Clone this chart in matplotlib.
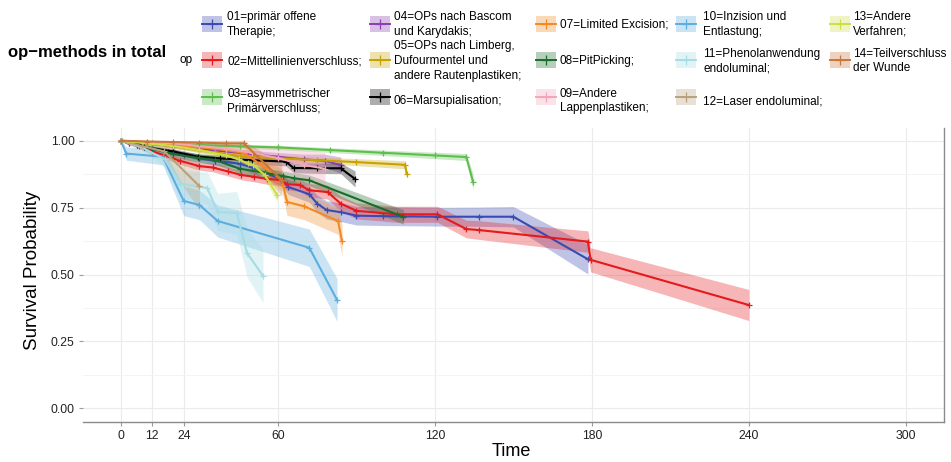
import matplotlib
matplotlib.use("Agg")
import matplotlib.pyplot as plt
import numpy as np
from matplotlib.patches import Rectangle
from matplotlib.lines import Line2D

plt.rcParams['font.family'] = ['Liberation Sans', 'DejaVu Sans']

# ---------------- data ----------------
T01 = [0, 3, 6, 12, 18, 24, 30, 36, 45.5, 50, 55, 61, 64, 72, 75, 78.6, 84, 90, 100, 121, 137, 150, 178.5]
S01 = [1.0, 0.99, 0.985, 0.97, 0.958, 0.945, 0.935, 0.925, 0.914, 0.90, 0.88, 0.858, 0.827, 0.80, 0.765, 0.741, 0.733, 0.72, 0.718, 0.716, 0.716, 0.716, 0.557]
C01 = [0, .005, .007, .01, .012, .013, .015, .016, .018, .02, .022, .025, .028, .03, .032, .034, .035, .035, .035, .035, .036, .038, .055]

T02 = [0, 3, 7, 12, 16.8, 22.5, 30, 35, 41, 46, 51, 56, 61, 63.5, 68.4, 72, 79, 84, 90, 105.5, 121, 132, 137, 178.5, 179.5, 240]
S02 = [1.0, 0.99, 0.982, 0.96, 0.945, 0.925, 0.905, 0.90, 0.885, 0.872, 0.865, 0.857, 0.853, 0.838, 0.834, 0.815, 0.808, 0.765, 0.738, 0.725, 0.725, 0.67, 0.666, 0.623, 0.555, 0.386]
C02 = [0, .005, .008, .01, .012, .013, .015, .016, .017, .018, .019, .02, .021, .022, .023, .025, .026, .028, .03, .03, .03, .033, .035, .04, .045, .058]

T03 = [0, 12, 30, 45.5, 60, 80, 100, 120, 132, 134.6]
S03 = [1.0, 0.99, 0.984, 0.979, 0.975, 0.965, 0.955, 0.945, 0.939, 0.846]
C03 = [0, .005, .006, .007, .008, .009, .01, .012, .013, .03]

T04 = [0, 10, 20, 30, 40, 50, 60, 70, 78, 84]
S04 = [1.0, 0.99, 0.98, 0.97, 0.96, 0.95, 0.94, 0.93, 0.925, 0.909]
C04 = [0, .006, .008, .01, .012, .014, .016, .02, .025, .03]

T05 = [0, 10, 20, 30, 45.5, 60, 75, 90, 108.6, 109.2]
S05 = [1.0, 0.99, 0.98, 0.965, 0.942, 0.935, 0.927, 0.92, 0.91, 0.877]
C05 = [0, .005, .007, .009, .01, .011, .012, .013, .015, .02]

T06 = [0, 6, 9, 20, 29.5, 38, 50, 63, 66, 75, 84, 89.5]
S06 = [1.0, 0.99, 0.976, 0.96, 0.94, 0.934, 0.927, 0.922, 0.898, 0.897, 0.897, 0.857]
C06 = [0, .006, .008, .01, .011, .013, .015, .016, .018, .019, .02, .03]

T07 = [0, 12, 24, 36, 47, 55, 61.5, 63.5, 70, 83, 84.5]
S07 = [1.0, 0.99, 0.98, 0.97, 0.955, 0.9, 0.853, 0.771, 0.755, 0.70, 0.625]
C07 = [0, .006, .01, .012, .015, .03, .04, .05, .05, .05, .06]

T08 = [0, 6, 12, 20, 30, 36, 45.5, 55, 62, 66, 72, 108]
S08 = [1.0, 0.985, 0.97, 0.95, 0.935, 0.928, 0.895, 0.88, 0.868, 0.86, 0.852, 0.715]
C08 = [0, .007, .01, .013, .015, .016, .017, .018, .019, .02, .02, .027]

T09 = [0, 10, 20, 30, 40, 50, 60, 70, 78]
S09 = [1.0, 0.995, 0.99, 0.98, 0.97, 0.955, 0.935, 0.91, 0.895]
C09 = [0, .006, .01, .015, .02, .03, .045, .055, .06]

T10 = [0, 2, 16, 24, 30, 37, 72, 82.6]
S10 = [1.0, 0.952, 0.94, 0.775, 0.76, 0.70, 0.60, 0.405]
C10 = [0, .025, .03, .055, .055, .06, .07, .08]

T11 = [0, 8, 16.8, 22.5, 33, 37, 44.3, 48.2, 54.3]
S11 = [1.0, 0.975, 0.93, 0.84, 0.823, 0.734, 0.73, 0.58, 0.495]
C11 = [0, .01, .03, .05, .06, .07, .08, .09, .1]

T12 = [0, 8, 16.6, 30]
S12 = [1.0, 0.98, 0.96, 0.83]
C12 = [0, .015, .025, .09]

T13 = [0, 10, 20, 30, 40, 45, 48.5, 50.5, 55, 59.7]
S13 = [1.0, 0.99, 0.98, 0.965, 0.945, 0.93, 0.915, 0.909, 0.872, 0.797]
C13 = [0, .005, .008, .01, .012, .014, .015, .016, .02, .025]

T14 = [0, 10, 20, 30, 40, 47, 61.5]
S14 = [1.0, 0.997, 0.995, 0.993, 0.99, 0.99, 0.853]
C14 = [0, .005, .008, .01, .012, .015, .06]

LABELS = ["01=primär offene\nTherapie;", "02=Mittellinienverschluss;",
          "03=asymmetrischer\nPrimärverschluss;", "04=OPs nach Bascom\nund Karydakis;",
          "05=OPs nach Limberg,\nDufourmentel und\nandere Rautenplastiken;",
          "06=Marsupialisation;", "07=Limited Excision;", "08=PitPicking;",
          "09=Andere\nLappenplastiken;", "10=Inzision und\nEntlastung;",
          "11=Phenolanwendung\nendoluminal;", "12=Laser endoluminal;",
          "13=Andere\nVerfahren;", "14=Teilverschluss\nder Wunde"]

COLORS = ["#3A4AB2", "#E41A1C", "#5CBF4B", "#8B3FB0", "#C8A200", "#000000", "#F28A24",
          "#1B6B2A", "#F4A6B8", "#5BAEDF", "#A6DCE4", "#B8A17C", "#CDDF45", "#C8773A"]

X_TICKS = [0, 12, 24, 60, 120, 180, 240, 300]
Y_TICKS = [0.0, 0.25, 0.5, 0.75, 1.0]

SERIES = [(T01, S01, C01), (T02, S02, C02), (T03, S03, C03), (T04, S04, C04),
          (T05, S05, C05), (T06, S06, C06), (T07, S07, C07), (T08, S08, C08),
          (T09, S09, C09), (T10, S10, C10), (T11, S11, C11), (T12, S12, C12),
          (T13, S13, C13), (T14, S14, C14)]

# ---------------- figure ----------------
W, H = 951, 462
fig = plt.figure(figsize=(W / 100, H / 100), dpi=100)
ax = fig.add_axes([83 / W, 1 - 421.7 / H, (944 - 83) / W, (421.7 - 128) / H])

RIB_ALPHA = 0.32
for (t, s, c), col in zip(SERIES, COLORS):
    t = np.array(t); s = np.array(s); c = np.array(c)
    lo = np.clip(s - c, 0, 1)
    hi = np.clip(s + c, 0, 1)
    ax.fill_between(t, lo, hi, color=col, alpha=RIB_ALPHA, lw=0)
for (t, s, c), col in zip(SERIES, COLORS):
    ax.plot(t, s, color=col, lw=1.5, marker='+', ms=5, mew=0.9)

ax.set_xlim(-14.5, 314.6)
ax.set_ylim(-0.05, 1.0475)
ax.set_xticks(X_TICKS)
ax.set_xticklabels([str(v) for v in X_TICKS])
ax.set_yticks(Y_TICKS)
ax.set_yticklabels(["%.2f" % v for v in Y_TICKS])
ax.set_yticks([0.125, 0.375, 0.625, 0.875], minor=True)
ax.grid(True, which='major', color='#EBEBEB', lw=0.8)
ax.grid(True, which='minor', axis='y', color='#F3F3F3', lw=0.6)
ax.set_axisbelow(True)
ax.tick_params(axis='both', which='major', length=3, width=0.8, color='#9A9A9A',
               labelsize=8.8, labelcolor='#222222', pad=3)
ax.tick_params(axis='y', which='minor', length=0)
for sp in ['top', 'left']:
    ax.spines[sp].set_visible(False)
for sp in ['bottom', 'right']:
    ax.spines[sp].set_color('#8A8A8A')
    ax.spines[sp].set_linewidth(1.0)

fig.text(511.7 / W, 1 - 451.7 / H, "Time", ha='center', va='center', fontsize=13)
fig.text(32.5 / W, 1 - 270.8 / H, "Survival Probability", ha='center', va='center',
         rotation=90, fontsize=13.5)

# ---------------- title and legend ----------------
fig.text(8 / W, 1 - 52 / H, "op\u2212methods in total", ha='left', va='center',
         fontsize=12, fontweight='bold')
fig.text(180 / W, 1 - 60 / H, "op", ha='left', va='center', fontsize=8.5)

KEY_X = [202, 370, 536, 676, 830]
TXT_X = [227, 394, 560, 703, 853]
KEY_Y = [24, 60, 97]
TXT_Y = [24.5, 61, 101]
KW, KH = 19.5, 16.5
for i, (lab, col) in enumerate(zip(LABELS, COLORS)):
    ci, ri = divmod(i, 3)
    kx, ky = KEY_X[ci], KEY_Y[ri]
    fig.add_artist(Rectangle((kx / W, 1 - (ky + KH / 2) / H), KW / W, KH / H,
                             transform=fig.transFigure, facecolor=col, alpha=RIB_ALPHA,
                             lw=0))
    fig.add_artist(Line2D([kx / W, (kx + KW) / W], [1 - ky / H, 1 - ky / H],
                          transform=fig.transFigure, color=col, lw=1.4))
    fig.add_artist(Line2D([(kx + KW / 2) / W], [1 - ky / H], transform=fig.transFigure,
                          color=col, marker='+', ms=7, mew=0.9, lw=0))
    fig.text(TXT_X[ci] / W, 1 - TXT_Y[ri] / H, lab, ha='left', va='center',
             fontsize=8.5, linespacing=1.3)

fig.savefig("out.png", dpi=100)
